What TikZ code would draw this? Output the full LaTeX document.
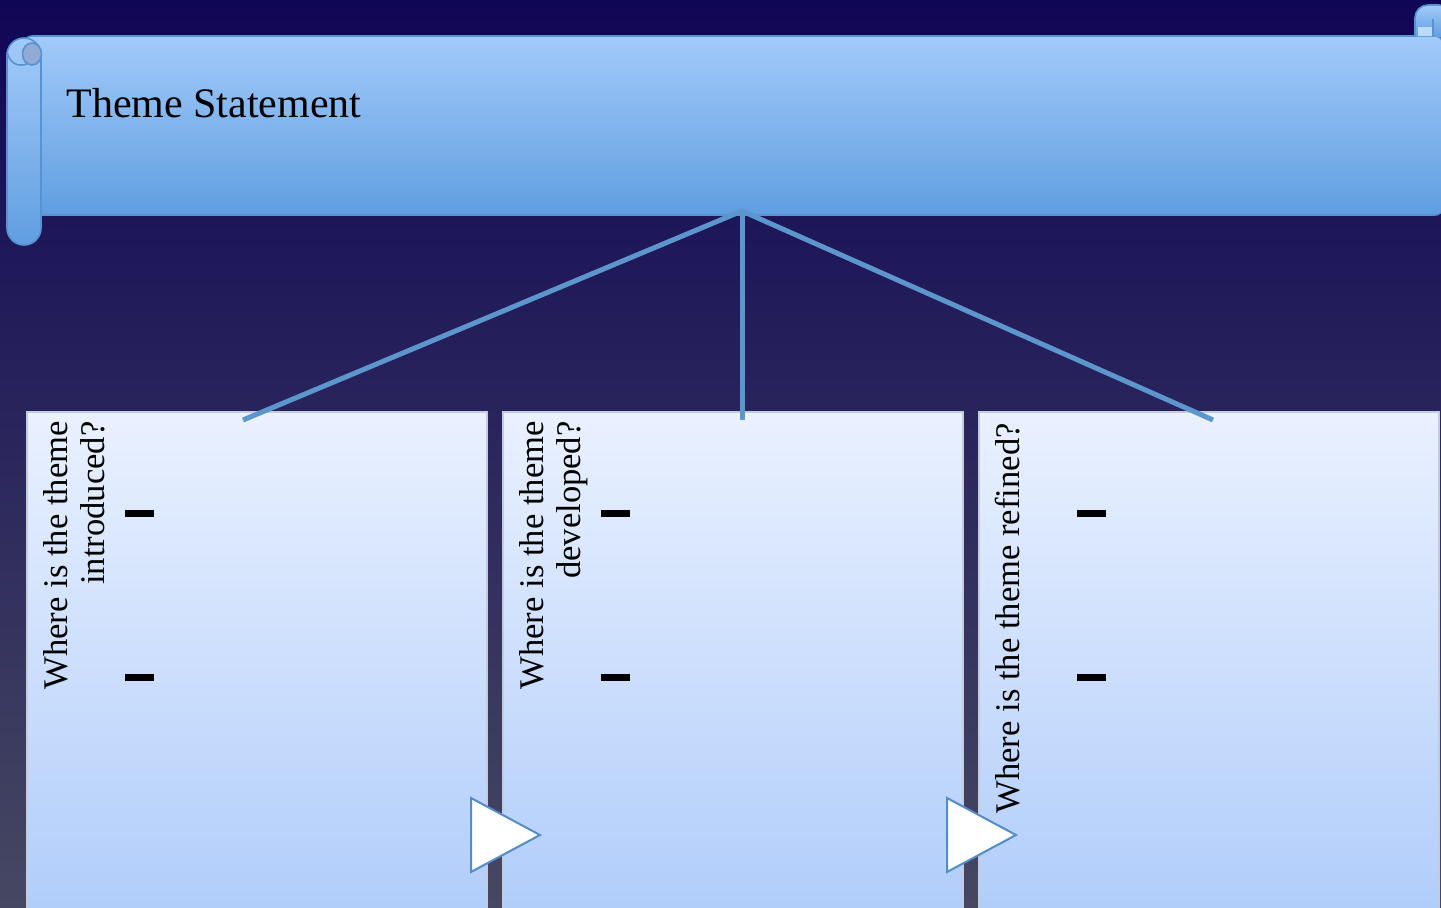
\documentclass[tikz,border=0pt]{standalone}
\usepackage{fontspec}
\setmainfont{Liberation Serif}
\definecolor{bgtop}{RGB}{16,6,86}
\definecolor{bgmid}{RGB}{30,28,66}
\definecolor{bgbot}{RGB}{70,72,98}
\definecolor{scrolltop}{RGB}{162,202,250}
\definecolor{scrollbot}{RGB}{96,158,224}
\definecolor{scrollline}{RGB}{88,146,208}
\definecolor{holefill}{RGB}{148,170,214}
\definecolor{boxtop}{RGB}{234,241,255}
\definecolor{boxbot}{RGB}{176,205,250}
\definecolor{boxline}{RGB}{196,204,220}
\definecolor{linkblue}{RGB}{92,150,205}
\definecolor{tribd}{RGB}{84,140,200}
\tikzset{
  qbox/.style={draw=boxline, line width=0.6pt, top color=boxtop, bottom color=boxbot,
    minimum width=230pt, minimum height=250pt, inner sep=0pt},
  qtext/.style={rotate=90, anchor=north east, align=right, inner sep=0pt,
    font=\fontsize{17.3}{18.5}\selectfont},
  scrollpart/.style={draw=scrollline, line width=0.8pt, top color=scrolltop, bottom color=scrollbot},
  link/.style={draw=linkblue, line width=2.5pt, line join=miter},
  dashbar/.style={fill=black},
  playtri/.style={draw=tribd, fill=white, line width=1pt, line join=miter},
}
\begin{document}
\begin{tikzpicture}[x=0.5pt, y=-0.5pt]
      \useasboundingbox (0,0) rectangle (1441,908);
      \clip (0,0) rectangle (1441,908);
      \shade[top color=bgtop, middle color=bgmid, bottom color=bgbot] (0,0) rectangle (1441,908);
      % question boxes
      \node[qbox] (intro) at (257,662) {};
      \node[qbox] (devel) at (733,662) {};
      \node[qbox] (refine) at (1209,662) {};
      % scroll banner
      \path[scrollpart, rounded corners=4pt] (24,36) rectangle (1443,215);
      \path[scrollpart, rounded corners=8.5pt] (7,38) rectangle (41,245);
      \draw[scrollline, line width=0.8pt] (7,52) .. controls (10,64) and (18,67) .. (27,64);
      \path[draw=scrollline, line width=0.8pt, fill=holefill] (32,54) ellipse [x radius=4.75pt, y radius=5.5pt];
      \path[scrollpart, rounded corners=6.5pt] (1415,37) -- (1415,5) -- (1452,5) -- (1452,37);
      \path[fill=scrolltop!70!white] (1418,27) rectangle (1433,36);
      \draw[scrollline, line width=0.8pt] (1433,36) -- (1433,19);
      \node[font=\fontsize{21}{25}\selectfont, anchor=base west, inner sep=0pt] (title)
        at (66,118) {Theme Statement};
      % connectors
      \coordinate (hub) at (742,211);
      \coordinate (introtop) at (243,420);
      \coordinate (develtop) at (742,420);
      \coordinate (refinetop) at (1213,420);
      \begin{scope}[link]
        \draw (introtop) -- (hub) -- (refinetop);
        \draw (hub) -- (develtop);
      \end{scope}
      % questions
      \node[qtext] (introq) at (43,421) {Where is the theme\\introduced?};
      \node[qtext] (develq) at (519,421) {Where is the theme\\developed?};
      \node[qtext] (refineq) at (995,423) {Where is the theme refined?};
      \fill[dashbar] (125,510) rectangle (154,517);
      \fill[dashbar] (125,674) rectangle (154,681);
      \fill[dashbar] (601,510) rectangle (630,517);
      \fill[dashbar] (601,674) rectangle (630,681);
      \fill[dashbar] (1077,510) rectangle (1106,517);
      \fill[dashbar] (1077,674) rectangle (1106,681);
      % arrows between boxes
      \draw[playtri] (471,798) -- (540,835) -- (471,872) -- cycle;
      \draw[playtri] (947,798) -- (1016,835) -- (947,872) -- cycle;
    \end{tikzpicture}
\end{document}
